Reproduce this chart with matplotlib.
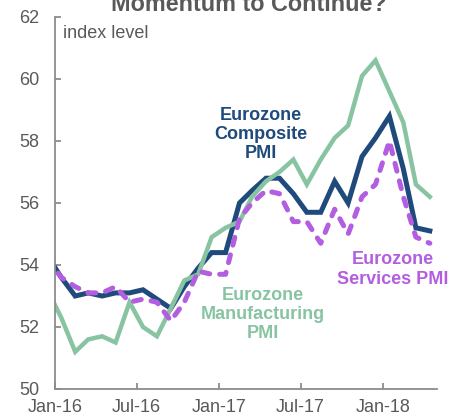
import datetime as dt
import matplotlib
matplotlib.use("Agg")
import matplotlib.pyplot as plt
import matplotlib.dates as mdates

plt.rcParams['font.family'] = ['Liberation Sans', 'DejaVu Sans']

# monthly readings, Dec-15 .. Apr-18 (Dec-15 is clipped at the left edge)
months = [dt.date(2015 + (11 + i) // 12, (11 + i) % 12 + 1, 15) for i in range(29)]
composite = [54.3, 53.6, 53.0, 53.1, 53.0, 53.1, 53.1, 53.2, 52.9, 52.6, 53.3, 53.9, 54.4,
             54.4, 56.0, 56.4, 56.8, 56.8, 56.3, 55.7, 55.7, 56.7, 56.0, 57.5, 58.1,
             58.8, 57.1, 55.2, 55.1]
manufacturing = [53.2, 52.3, 51.2, 51.6, 51.7, 51.5, 52.8, 52.0, 51.7, 52.6, 53.5, 53.7, 54.9,
                 55.2, 55.4, 56.2, 56.7, 57.0, 57.4, 56.6, 57.4, 58.1, 58.5, 60.1, 60.6,
                 59.6, 58.6, 56.6, 56.2]
services = [54.2, 53.6, 53.3, 53.1, 53.1, 53.3, 52.8, 52.9, 52.8, 52.2, 52.8, 53.8, 53.7,
            53.7, 55.5, 56.0, 56.4, 56.3, 55.4, 55.4, 54.7, 55.8, 55.0, 56.2, 56.6,
            58.0, 56.2, 54.9, 54.7]
tick_dates = [dt.date(2016, 1, 1), dt.date(2016, 7, 1), dt.date(2017, 1, 1),
              dt.date(2017, 7, 1), dt.date(2018, 1, 1)]
y_ticks = [50, 52, 54, 56, 58, 60, 62]

navy = '#1f4a7c'
green = '#88c4a1'
purple = '#b35ee0'
grey = '#595959'

fig = plt.figure(figsize=(4.63, 4.18), dpi=100)
ax = fig.add_axes([55 / 463, 1 - 389 / 418, (437 - 55) / 463, (389 - 17) / 418])

ax.plot(months, composite, color=navy, lw=3.6, solid_joinstyle='miter')
ax.plot(months, manufacturing, color=green, lw=3.2, solid_joinstyle='miter')
ax.plot(months, services, color=purple, lw=3.6, dashes=(1.6, 2.0), dash_capstyle='round')

ax.set_xlim(dt.date(2016, 1, 1), dt.date(2018, 5, 1))
ax.set_ylim(50, 62)
ax.set_xticks(tick_dates)
ax.xaxis.set_major_formatter(mdates.DateFormatter('%b-%y'))
ax.set_yticks(y_ticks)

for s in ['top', 'right']:
    ax.spines[s].set_visible(False)
for s in ['left', 'bottom']:
    ax.spines[s].set_color('#8c8c8c')
    ax.spines[s].set_linewidth(1.3)
ax.tick_params(direction='in', length=4, width=1.3, color='#8c8c8c',
               labelsize=13, labelcolor=grey)
ax.tick_params(axis='x', pad=7.5)
ax.tick_params(axis='y', pad=11.5)

ax.text(0.02, 0.955, 'index level', transform=ax.transAxes, fontsize=13,
        color=grey, va='center', ha='left')

ax.text(dt.date(2017, 4, 4), 58.2, 'Eurozone\nComposite\nPMI', color=navy,
        fontsize=13, fontweight='bold', ha='center', va='center', linespacing=1.15)
ax.text(dt.date(2017, 4, 7), 52.4, 'Eurozone\nManufacturing\nPMI', color=green,
        fontsize=13, fontweight='bold', ha='center', va='center', linespacing=1.15)
ax.text(dt.date(2018, 1, 22), 53.85, 'Eurozone\nServices PMI', color=purple,
        fontsize=13, fontweight='bold', ha='center', va='center', linespacing=1.2)

# title sits partly above the top edge, as in the source
fig.text(249 / 463, 1 - 11 / 418, 'Momentum to Continue?', fontsize=16.8,
         fontweight='bold', color=grey, ha='center', va='baseline')

fig.savefig('out.png', dpi=100)
